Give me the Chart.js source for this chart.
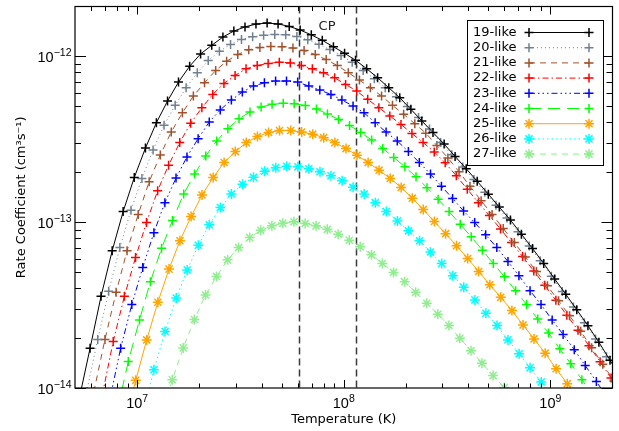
<!DOCTYPE html>
<html><head><meta charset="utf-8">
<script src="https://cdn.jsdelivr.net/npm/chart.js@4.4.1/dist/chart.umd.min.js"></script>
<style>html,body{margin:0;padding:0;background:#fff;}canvas{display:block;}</style>
</head><body>
<canvas id="c" width="619" height="431"></canvas>
<script>
// ---------------- data (log10 T [K], log10 rate [cm^3 s^-1]) ----------------
const seriesNames = ['19-like','20-like','21-like','22-like','23-like','24-like','25-like','26-like','27-like'];

const logT19 = [6.718,6.772,6.825,6.879,6.932,6.986,7.040,7.093,7.147,7.200,7.254,7.307,7.361,7.415,7.468,7.522,7.575,7.629,7.682,7.736,7.789,7.843,7.896,7.950,8.004,8.057,8.111,8.164,8.218,8.271,8.325,8.378,8.432,8.486,8.539,8.593,8.646,8.700,8.753,8.807,8.860,8.914,8.968,9.021,9.075,9.128,9.182,9.235,9.289,9.342];
const logR19 = [-14.072,-13.760,-13.447,-13.172,-12.936,-12.730,-12.553,-12.400,-12.269,-12.155,-12.059,-11.985,-11.933,-11.883,-11.847,-11.822,-11.805,-11.799,-11.804,-11.819,-11.841,-11.870,-11.903,-11.942,-11.981,-12.023,-12.074,-12.129,-12.189,-12.249,-12.319,-12.389,-12.459,-12.529,-12.603,-12.678,-12.753,-12.831,-12.909,-12.987,-13.072,-13.159,-13.249,-13.342,-13.435,-13.528,-13.624,-13.724,-13.832,-13.940];

const logT20 = [6.755,6.809,6.862,6.916,6.970,7.023,7.077,7.130,7.184,7.237,7.291,7.344,7.398,7.452,7.505,7.559,7.612,7.666,7.719,7.773,7.826,7.880,7.933,7.987,8.041,8.094,8.148,8.201,8.255,8.308,8.362,8.415,8.469,8.523,8.576,8.630,8.683,8.737,8.790,8.844,8.898,8.951,9.005,9.058,9.112,9.165,9.219,9.272,9.326];
const logR20 = [-14.024,-13.707,-13.417,-13.153,-12.928,-12.736,-12.564,-12.415,-12.295,-12.189,-12.099,-12.025,-11.969,-11.928,-11.898,-11.882,-11.873,-11.868,-11.870,-11.880,-11.900,-11.927,-11.959,-11.995,-12.035,-12.085,-12.135,-12.189,-12.243,-12.302,-12.368,-12.438,-12.520,-12.593,-12.667,-12.742,-12.819,-12.897,-12.975,-13.058,-13.143,-13.233,-13.326,-13.418,-13.512,-13.606,-13.705,-13.811,-13.918];

const logT21 = [6.790,6.844,6.898,6.951,7.005,7.058,7.112,7.165,7.219,7.272,7.326,7.380,7.433,7.487,7.540,7.594,7.647,7.701,7.754,7.808,7.862,7.915,7.969,8.022,8.076,8.129,8.183,8.236,8.290,8.344,8.397,8.451,8.504,8.558,8.611,8.665,8.718,8.772,8.826,8.879,8.933,8.986,9.040,9.093,9.147,9.200,9.254,9.308];
const logR21 = [-14.024,-13.707,-13.423,-13.172,-12.953,-12.756,-12.594,-12.456,-12.340,-12.239,-12.159,-12.085,-12.029,-11.989,-11.960,-11.947,-11.940,-11.941,-11.949,-11.965,-11.989,-12.019,-12.055,-12.098,-12.143,-12.189,-12.239,-12.295,-12.349,-12.406,-12.463,-12.537,-12.612,-12.696,-12.783,-12.870,-12.954,-13.038,-13.123,-13.210,-13.297,-13.384,-13.474,-13.564,-13.657,-13.757,-13.856,-13.958];

const logT22 = [6.831,6.884,6.938,6.992,7.045,7.099,7.152,7.206,7.259,7.313,7.366,7.420,7.474,7.527,7.581,7.634,7.688,7.741,7.795,7.848,7.902,7.956,8.009,8.063,8.116,8.170,8.223,8.277,8.330,8.384,8.438,8.491,8.545,8.598,8.652,8.705,8.759,8.812,8.866,8.920,8.973,9.027,9.080,9.134,9.187,9.241,9.294,9.348];
const logR22 = [-14.042,-13.719,-13.447,-13.213,-13.002,-12.810,-12.656,-12.520,-12.403,-12.310,-12.229,-12.163,-12.115,-12.075,-12.055,-12.043,-12.035,-12.039,-12.055,-12.075,-12.099,-12.129,-12.169,-12.209,-12.259,-12.310,-12.359,-12.410,-12.465,-12.519,-12.576,-12.642,-12.720,-12.801,-12.882,-12.960,-13.041,-13.123,-13.207,-13.294,-13.381,-13.471,-13.561,-13.651,-13.745,-13.841,-13.940,-14.042];

const logT23 = [6.867,6.920,6.974,7.027,7.081,7.134,7.188,7.241,7.295,7.349,7.402,7.456,7.509,7.563,7.616,7.670,7.723,7.777,7.831,7.884,7.938,7.991,8.045,8.098,8.152,8.205,8.259,8.313,8.366,8.420,8.473,8.527,8.580,8.634,8.687,8.741,8.795,8.848,8.902,8.955,9.009,9.062,9.116,9.169,9.223,9.277];
const logR23 = [-14.072,-13.760,-13.497,-13.273,-13.063,-12.882,-12.734,-12.606,-12.496,-12.395,-12.323,-12.263,-12.215,-12.179,-12.159,-12.149,-12.149,-12.155,-12.179,-12.203,-12.229,-12.263,-12.299,-12.340,-12.400,-12.456,-12.510,-12.574,-12.640,-12.710,-12.783,-12.857,-12.932,-13.002,-13.076,-13.153,-13.237,-13.323,-13.413,-13.497,-13.590,-13.677,-13.769,-13.865,-13.961,-14.060];

const logT24 = [6.904,6.957,7.011,7.064,7.118,7.171,7.225,7.278,7.332,7.385,7.439,7.493,7.546,7.600,7.653,7.707,7.760,7.814,7.868,7.921,7.975,8.028,8.082,8.135,8.189,8.242,8.296,8.350,8.403,8.457,8.510,8.564,8.617,8.671,8.724,8.778,8.832,8.885,8.939,8.992,9.046,9.099,9.153,9.206];
const logR24 = [-14.132,-13.840,-13.590,-13.359,-13.157,-12.989,-12.830,-12.710,-12.600,-12.510,-12.436,-12.376,-12.335,-12.305,-12.289,-12.283,-12.285,-12.296,-12.317,-12.347,-12.380,-12.416,-12.459,-12.504,-12.555,-12.609,-12.666,-12.726,-12.792,-12.861,-12.936,-13.013,-13.088,-13.169,-13.249,-13.329,-13.413,-13.497,-13.584,-13.669,-13.764,-13.854,-13.950,-14.048];

const logT25 = [6.939,6.993,7.046,7.100,7.154,7.207,7.261,7.314,7.368,7.421,7.475,7.528,7.582,7.636,7.689,7.743,7.796,7.850,7.903,7.957,8.011,8.064,8.118,8.171,8.225,8.278,8.332,8.385,8.439,8.493,8.546,8.600,8.653,8.707,8.760,8.814,8.868,8.921,8.975,9.028,9.082,9.135];
const logR25 = [-14.222,-13.954,-13.710,-13.483,-13.283,-13.112,-12.966,-12.836,-12.730,-12.640,-12.574,-12.520,-12.483,-12.459,-12.447,-12.447,-12.456,-12.469,-12.490,-12.520,-12.556,-12.596,-12.640,-12.686,-12.736,-12.790,-12.855,-12.924,-12.996,-13.069,-13.142,-13.219,-13.297,-13.377,-13.453,-13.533,-13.620,-13.704,-13.790,-13.884,-13.974,-14.072];

const logT26 = [7.028,7.081,7.135,7.189,7.242,7.296,7.349,7.403,7.456,7.510,7.563,7.617,7.671,7.724,7.778,7.831,7.885,7.938,7.992,8.045,8.099,8.153,8.206,8.260,8.313,8.367,8.420,8.474,8.528,8.581,8.635,8.688,8.742,8.795,8.849,8.902,8.956,9.009];
const logR26 = [-14.162,-13.890,-13.659,-13.457,-13.289,-13.139,-13.016,-12.912,-12.830,-12.771,-12.729,-12.693,-12.672,-12.663,-12.666,-12.678,-12.696,-12.720,-12.750,-12.789,-12.830,-12.882,-12.936,-12.992,-13.052,-13.112,-13.180,-13.249,-13.323,-13.393,-13.469,-13.549,-13.623,-13.710,-13.794,-13.878,-13.964,-14.054];

const logT27 = [7.116,7.170,7.223,7.277,7.331,7.384,7.438,7.491,7.545,7.598,7.652,7.705,7.759,7.813,7.866,7.920,7.973,8.027,8.080,8.134,8.187,8.241,8.295,8.348,8.402,8.455,8.509,8.562,8.616,8.669,8.723,8.777,8.830];
const logR27 = [-14.180,-13.950,-13.758,-13.587,-13.439,-13.327,-13.227,-13.153,-13.093,-13.049,-13.022,-13.007,-12.998,-13.008,-13.022,-13.043,-13.073,-13.109,-13.148,-13.197,-13.249,-13.303,-13.359,-13.423,-13.489,-13.555,-13.623,-13.700,-13.775,-13.850,-13.925,-13.997,-14.072];

const cpLinesK = [6.07e7, 1.14e8];          // vertical dashed markers
const cpText = 'CP';
const cpTextPos = [8.3e7, 1.52e-12];         // where the CP label sits (data coords)

const xMajorTicks = [1e7, 1e8, 1e9];
const xTickExps = ['7', '8', '9'];
const yMajorTicks = [1e-14, 1e-13, 1e-12];
const yTickExps = ['\u221214', '\u221213', '\u221212'];
const xTitle = 'Temperature (K)';
const yTitle = 'Rate Coefficient (cm\u00B3s\u207B\u00B9)';

// ---------------- styles ----------------
const logTs = [logT19, logT20, logT21, logT22, logT23, logT24, logT25, logT26, logT27];
const logRs = [logR19, logR20, logR21, logR22, logR23, logR24, logR25, logR26, logR27];
const styles = [
  {color:'#000000', dash:[],                         marker:'cross', r:4.5},
  {color:'#708090', dash:[1,3],                      marker:'cross', r:4.5},
  {color:'#A0522D', dash:[6,5],                      marker:'cross', r:4.5},
  {color:'#FF0000', dash:[6,3,1.5,3],                marker:'cross', r:4.5},
  {color:'#0000FF', dash:[6,3,1.5,3,1.5,3,1.5,3],    marker:'cross', r:4.5},
  {color:'#00FF00', dash:[12,7],                     marker:'cross', r:4.5},
  {color:'#FFA500', dash:[],                         marker:'star',  r:5},
  {color:'#00FFFF', dash:[1.5,3],                    marker:'star',  r:5},
  {color:'#90EE90', dash:[6,5],                      marker:'star',  r:5}
];
const textFont = "'DejaVu Sans', sans-serif";
const tickFont = "'Liberation Sans', Arial, sans-serif";

const datasets = seriesNames.map((name, s) => ({
  label: name,
  data: logTs[s].map((t, i) => ({x: Math.pow(10, t), y: Math.pow(10, logRs[s][i])})),
  borderColor: styles[s].color,
  backgroundColor: styles[s].color,
  borderWidth: 1,
  borderDash: styles[s].dash,
  pointStyle: styles[s].marker,
  pointRadius: styles[s].r,
  pointBorderWidth: 1.5,
  pointBorderColor: styles[s].color,
  pointBackgroundColor: styles[s].color,
  tension: 0,
  fill: false,
  clip: 0
}));

// ---------------- plugins ----------------
const cpPlugin = {
  id: 'cp',
  beforeDatasetsDraw(chart) {
    const {ctx, chartArea: a, scales: {x, y}} = chart;
    ctx.save();
    ctx.strokeStyle = '#3a3a3a';
    ctx.lineWidth = 1.5;
    ctx.setLineDash([7, 4]);
    cpLinesK.forEach(v => {
      const px = Math.round(x.getPixelForValue(v)) + 0.5;
      ctx.beginPath(); ctx.moveTo(px, a.top); ctx.lineTo(px, a.bottom); ctx.stroke();
    });
    ctx.setLineDash([]);
    ctx.fillStyle = '#222';
    ctx.font = '13px ' + textFont;
    ctx.textAlign = 'center'; ctx.textBaseline = 'middle';
    ctx.fillText(cpText, x.getPixelForValue(cpTextPos[0]), y.getPixelForValue(cpTextPos[1]));
    ctx.restore();
  }
};

const framePlugin = {
  id: 'frame',
  afterDatasetsDraw(chart) {
    const {ctx, chartArea: a, scales: {x, y}} = chart;
    ctx.save();
    ctx.strokeStyle = '#000';
    ctx.lineWidth = 1.2;
    ctx.strokeRect(a.left, a.top, a.right - a.left, a.bottom - a.top);
    ctx.lineWidth = 1;
    const line = (x1, y1, x2, y2) => { ctx.beginPath(); ctx.moveTo(x1, y1); ctx.lineTo(x2, y2); ctx.stroke(); };
    for (let e = -15; e <= -11; e++) {
      for (let m = 1; m <= 9; m++) {
        const v = m * Math.pow(10, e);
        if (v < y.min * 0.9999 || v > y.max * 0.9999) continue;
        const py = Math.round(y.getPixelForValue(v)) + 0.5;
        const L = m === 1 ? 11 : 6;
        line(a.left, py, a.left + L, py);
        line(a.right, py, a.right - L, py);
      }
    }
    for (let e = 6; e <= 9; e++) {
      for (let m = 1; m <= 9; m++) {
        const v = m * Math.pow(10, e);
        if (v <= x.min * 1.0001 || v >= x.max * 0.9999) continue;
        const px = Math.round(x.getPixelForValue(v)) + 0.5;
        const L = m === 1 ? 8 : 4.5;
        line(px, a.bottom, px, a.bottom - L);
        line(px, a.top, px, a.top + L);
      }
    }
    // tick labels: 10 with raised exponent
    ctx.fillStyle = '#000';
    ctx.textBaseline = 'alphabetic';
    const baseFont = '14.5px ' + tickFont, expFont = '10.5px ' + tickFont;
    yMajorTicks.forEach((v, i) => {
      const py = y.getPixelForValue(v);
      ctx.font = expFont; const we = ctx.measureText(yTickExps[i]).width;
      ctx.font = baseFont; const wb = ctx.measureText('10').width;
      const right = a.left - 3.5;
      ctx.textAlign = 'left';
      ctx.fillText('10', right - we - wb, py + 6);
      ctx.font = expFont;
      ctx.fillText(yTickExps[i], right - we, py - 0.5);
    });
    xMajorTicks.forEach((v, i) => {
      const px = x.getPixelForValue(v);
      ctx.font = expFont; const we = ctx.measureText(xTickExps[i]).width;
      ctx.font = baseFont; const wb = ctx.measureText('10').width;
      const left = px - (wb + we) / 2;
      ctx.textAlign = 'left';
      ctx.fillText('10', left, a.bottom + 20);
      ctx.font = expFont;
      ctx.fillText(xTickExps[i], left + wb, a.bottom + 13.5);
    });
    ctx.restore();
  }
};

const legendPlugin = {
  id: 'boxLegend',
  afterDraw(chart) {
    const ctx = chart.ctx;
    const bx = 467.5, by = 20.5, bw = 136, bh = 145;
    ctx.save();
    ctx.fillStyle = '#fff';
    ctx.fillRect(bx, by, bw, bh);
    ctx.strokeStyle = '#000'; ctx.lineWidth = 1;
    ctx.strokeRect(bx, by, bw, bh);
    ctx.font = '13px ' + textFont;
    ctx.textAlign = 'left'; ctx.textBaseline = 'middle';
    chart.data.datasets.forEach((ds, i) => {
      const yy = 32.5 + i * 15.2;
      ctx.fillStyle = '#000';
      ctx.fillText(ds.label, 473, yy);
      ctx.strokeStyle = ds.borderColor; ctx.fillStyle = ds.borderColor;
      ctx.lineWidth = 1; ctx.setLineDash(ds.borderDash);
      ctx.beginPath(); ctx.moveTo(529, yy); ctx.lineTo(589, yy); ctx.stroke();
      ctx.setLineDash([]);
      ctx.lineWidth = ds.pointBorderWidth;
      [529, 589].forEach(px => Chart.helpers.drawPoint(ctx, {pointStyle: ds.pointStyle, radius: ds.pointRadius, borderWidth: ds.pointBorderWidth, rotation: 0}, px, yy));
    });
    ctx.restore();
  }
};

const whiteBg = {
  id: 'whiteBg',
  beforeDraw(chart) { const c = chart.ctx; c.save(); c.fillStyle = '#fff'; c.fillRect(0, 0, chart.width, chart.height); c.restore(); }
};

new Chart(document.getElementById('c'), {
  type: 'line',
  data: { datasets },
  options: {
    responsive: false, animation: false, devicePixelRatio: 1,
    layout: { padding: { top: 5, right: 6, left: 0, bottom: 0 } },
    plugins: { legend: { display: false }, tooltip: { enabled: false } },
    scales: {
      x: {
        type: 'logarithmic', min: 5e6, max: 2e9,
        border: { display: false },
        grid: { display: false, drawTicks: false },
        afterBuildTicks: s => { s.ticks = xMajorTicks.map(v => ({ value: v, major: true })); },
        afterFit: s => { s.height = 43; },
        ticks: { display: false },
        title: { display: true, text: xTitle, color: '#000', font: { family: textFont, size: 13 }, padding: { top: 0, bottom: 4 } }
      },
      y: {
        type: 'logarithmic', min: 1e-14, max: 2e-12,
        border: { display: false },
        grid: { display: false, drawTicks: false },
        afterBuildTicks: s => { s.ticks = yMajorTicks.map(v => ({ value: v, major: true })); },
        afterFit: s => { s.width = 75; },
        ticks: { display: false },
        title: { display: true, text: yTitle, color: '#000', font: { family: textFont, size: 13 }, padding: { top: 14, bottom: 0 } }
      }
    }
  },
  plugins: [whiteBg, cpPlugin, framePlugin, legendPlugin]
});
</script>
</body></html>
